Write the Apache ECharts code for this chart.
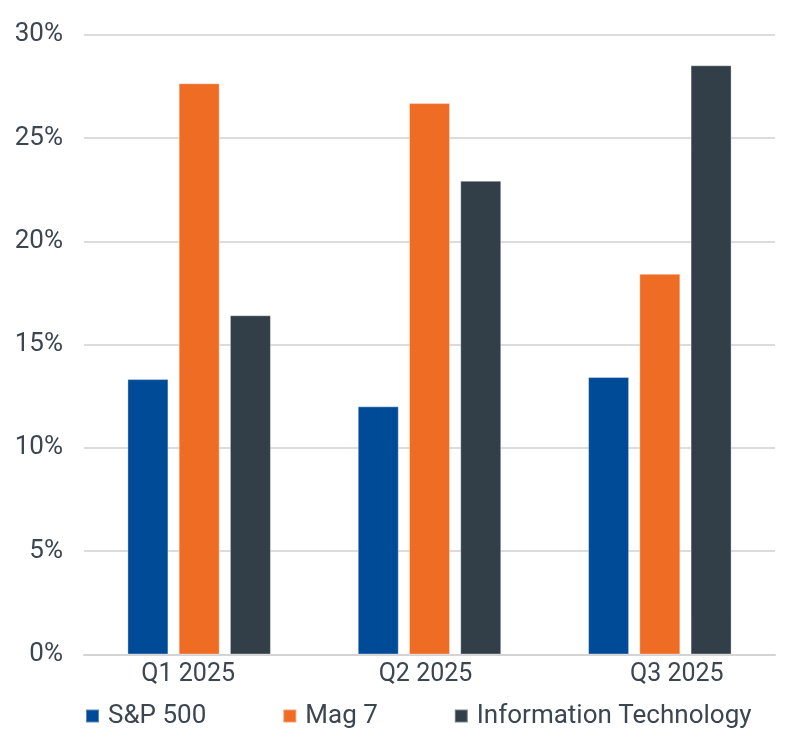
<!DOCTYPE html>
<html>
<head>
<meta charset="utf-8">
<script src="https://cdn.jsdelivr.net/npm/echarts@6/dist/echarts.min.js"></script>
<style>
html,body{margin:0;padding:0;background:#fff;}
#c{width:800px;height:755px;}
</style>
</head>
<body>
<div id="c"></div>
<script>
var categories = ['Q1 2025', 'Q2 2025', 'Q3 2025'];
var seriesNames = ['S&P 500', 'Mag 7', 'Information Technology'];
var sp500 = [13.33, 12.01, 13.43];
var mag7 = [27.65, 26.69, 18.43];
var infoTech = [16.42, 22.93, 28.52];
var yTicks = [0, 5, 10, 15, 20, 25, 30];

var colors = ['#004B97', '#EE6C24', '#333F48'];
var textColor = '#3C4650';
var font = 'Roboto';

var chart = echarts.init(document.getElementById('c'), null, {renderer: 'canvas'});
var data = [sp500, mag7, infoTech];
var labelStyleKeys = ['q1', 'q2', 'q3'];
chart.setOption({
  animation: false,
  color: colors,
  grid: {left: 84, right: 25, top: 34.7, bottom: 100.5, containLabel: false},
  legend: {
    left: 85,
    top: 703,
    padding: 0,
    itemWidth: 13,
    itemHeight: 13,
    itemGap: 76,
    icon: 'rect',
    textStyle: {color: textColor, fontFamily: font, fontSize: 26, padding: [0, 0, 0, 4]},
    data: seriesNames
  },
  xAxis: {
    type: 'category',
    data: categories,
    axisTick: {show: false},
    axisLine: {lineStyle: {color: '#D4D4D4', width: 2}},
    axisLabel: {
      color: textColor, fontFamily: font, fontSize: 25, margin: 8,
      formatter: function (v, i) { return '{' + labelStyleKeys[i] + '|' + v + '}'; },
      rich: {
        q1: {color: textColor, fontFamily: font, fontSize: 25, padding: [0, 22, 0, 0]},
        q2: {color: textColor, fontFamily: font, fontSize: 25, padding: [0, 8, 0, 0]},
        q3: {color: textColor, fontFamily: font, fontSize: 25, padding: [0, 0, 0, 34]}
      }
    }
  },
  yAxis: {
    type: 'value',
    min: yTicks[0],
    max: yTicks[yTicks.length - 1],
    interval: 5,
    axisLine: {show: false},
    axisTick: {show: false},
    axisLabel: {color: textColor, fontFamily: font, fontSize: 26, margin: 21, formatter: '{value}%'},
    splitLine: {lineStyle: {color: '#DCDCDC', width: 2}}
  },
  series: seriesNames.map(function (n, i) {
    return {
      name: n,
      type: 'bar',
      data: data[i],
      barWidth: 41,
      barGap: '25%',
      itemStyle: {color: colors[i], borderColor: 'rgba(255,255,255,0.35)', borderWidth: 1}
    };
  })
});
</script>
</body>
</html>
